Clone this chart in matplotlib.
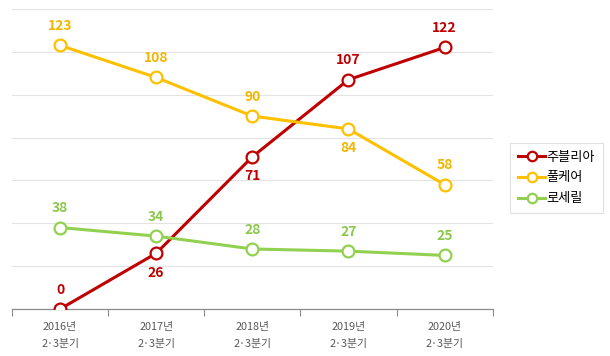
import matplotlib.pyplot as plt

plt.rcParams['font.family'] = ['Noto Sans CJK KR', 'DejaVu Sans']

categories = ['2016년\n2·3분기', '2017년\n2·3분기', '2018년\n2·3분기', '2019년\n2·3분기', '2020년\n2·3분기']
jubilia = [0, 26, 71, 107, 122]
fullcare = [123, 108, 90, 84, 58]
rosesil = [38, 34, 28, 27, 25]

# 라벨 위치: 1 = 위, -1 = 아래
jubilia_pos = [1, -1, -1, 1, 1]
fullcare_pos = [1, 1, 1, -1, 1]
rosesil_pos = [1, 1, 1, 1, 1]

series = [
    ('주블리아', jubilia, '#C00000', '#C00000', jubilia_pos),
    ('풀케어', fullcare, '#FFC000', '#F2B600', fullcare_pos),
    ('로세릴', rosesil, '#92D050', '#8CC84B', rosesil_pos),
]

fig = plt.figure(figsize=(6.10, 3.56), dpi=100)
ax = fig.add_axes([0.0197, 0.132, 0.788, 0.843])

x = list(range(len(categories)))
for name, vals, color, lcolor, pos in series:
    ax.plot(x, vals, color=color, lw=2.2, marker='o', ms=8.5,
            markerfacecolor='white', markeredgecolor=color, mew=1.6,
            label=name, zorder=3)
    for xi, v, p in zip(x, vals, pos):
        ax.annotate(str(v), (xi, v), xytext=(0, 14 * p), textcoords='offset points',
                    ha='center', va='center', color=lcolor, fontsize=10,
                    fontweight='bold')

ax.set_xlim(-0.5, 4.5)
ax.set_ylim(0, 140)
ax.set_yticks(range(0, 141, 20))
ax.yaxis.grid(True, color='#E3E3E3', lw=0.8)
ax.set_axisbelow(True)
ax.tick_params(axis='y', left=False, labelleft=False)

ax.set_xticks([i + 0.5 for i in range(-1, 5)], minor=False)
ax.set_xticklabels([])
ax.tick_params(axis='x', direction='out', length=5, color='#8C8C8C', width=0.8)
ax.set_xticks(x, minor=True)
ax.set_xticklabels(categories, minor=True, fontsize=7.8, color='#595959', linespacing=1.9)
ax.tick_params(axis='x', which='minor', length=0, pad=9)

for s in ['top', 'right', 'left']:
    ax.spines[s].set_visible(False)
ax.spines['bottom'].set_color('#8C8C8C')
ax.spines['bottom'].set_linewidth(0.9)

leg = fig.legend(loc='center left', bbox_to_anchor=(0.826, 0.50), frameon=True,
                 fontsize=9.5, handlelength=2.0, handletextpad=0.15,
                 borderpad=0.6, labelspacing=0.6, fancybox=False, markerscale=0.8)
leg.get_frame().set_edgecolor('#D9D9D9')
leg.get_frame().set_linewidth(0.8)

plt.savefig('out.png', dpi=100)
